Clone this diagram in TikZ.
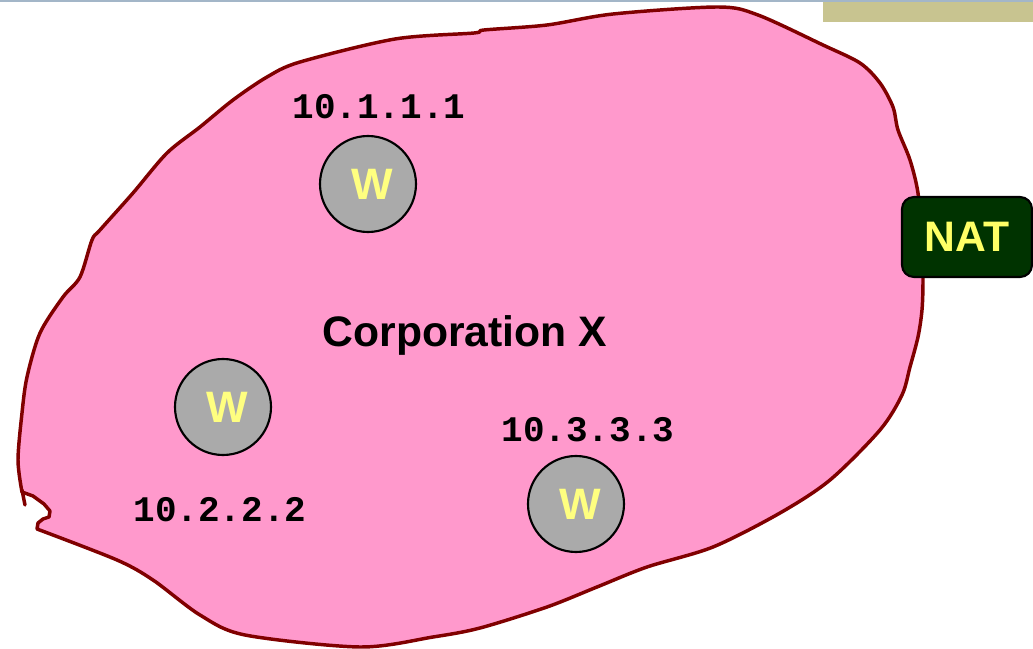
\documentclass[tikz,border=0pt]{standalone}
\usepackage{fontspec}
\setmainfont{Liberation Sans}
\newfontfamily\ipfont{Liberation Mono}

\definecolor{corppink}{HTML}{FF99CC}
\definecolor{corpedge}{HTML}{800000}
\definecolor{hostgray}{HTML}{AAAAAA}
\definecolor{hostyellow}{HTML}{FFFF80}
\definecolor{natgreen}{HTML}{003300}
\definecolor{natyellow}{HTML}{FFFF66}
\definecolor{rulegray}{HTML}{A3B6C8}
\definecolor{bartan}{HTML}{C8C490}

\begin{document}
\begin{tikzpicture}[x=0.75pt,y=-0.75pt,
    corp area/.style={fill=corppink,draw=corpedge,line width=2.6pt,line join=round},
    corp edge/.style={draw=corpedge,line width=2.6pt,line cap=round},
    host/.style={circle,draw=black,line width=1.6pt,fill=hostgray,
        minimum size=72pt,inner sep=0pt,text=hostyellow,
        font=\fontsize{33}{33}\selectfont\bfseries},
    ip label/.style={anchor=base,inner sep=0pt,
        font=\fontsize{27}{27}\selectfont\ipfont\bfseries},
    corp label/.style={anchor=base,inner sep=0pt,
        font=\fontsize{32}{32}\selectfont\bfseries},
    natbox/.style={rectangle,rounded corners=9pt,draw=black,line width=1.6pt,
        fill=natgreen,text=natyellow,minimum width=97.5pt,minimum height=60pt,
        font=\fontsize{32}{32}\selectfont\bfseries}
]
    \useasboundingbox (0,0) rectangle (1033,649);

    % header strip
    \fill[bartan] (823,0) rectangle (1033,22);
    \draw[rulegray,line width=1.5pt] (0,1) -- (1033,1);

    % the corporate network area
    \filldraw[corp area] plot[smooth,tension=0.5] coordinates {
        (22,492) (18,460) (22,413) (27,377) (40,333) (63,297) (80,277)
        (92,240) (100,230) (133,193) (167,153) (200,127) (233,100)
        (267,77) (300,62) (395,39) (474,33) (484,30) (547,25) (613,14)
        (718,7) (758,15) (823,45) (860,63) (880,83) (893,107) (898,130)
        (910,160) (918,193) (922,240) (923,280) (922,310) (918,337)
        (910,367) (902,395) (880,430) (830,480) (780,513) (713,547)
        (647,567) (597,587) (547,607) (480,628) (433,637) (360,647)
        (245,635) (200,615) (153,580) (117,560) (37,529)}
        -- (38,523) -- (43,519) -- (49,517) -- (50,511) -- (44,504)
        -- (33,496) -- cycle;
    \draw[corp edge] (22,490) -- (25,505);

    \node[corp label] (corp) at (465,347) {Corporation X};

    % hosts
    \node[host] (w1) at (368,184) {\kern6pt W};
    \node[host] (w2) at (223,407) {\kern6pt W};
    \node[host] (w3) at (576,504) {\kern6pt W};

    \node[ip label] (ip1) at (379,119) {10.1.1.1};
    \node[ip label] (ip2) at (220,521) {10.2.2.2};
    \node[ip label] (ip3) at (588,441) {10.3.3.3};

    % gateway on the edge
    \node[natbox] (nat) at (967,237) {NAT};

\end{tikzpicture}
\end{document}
